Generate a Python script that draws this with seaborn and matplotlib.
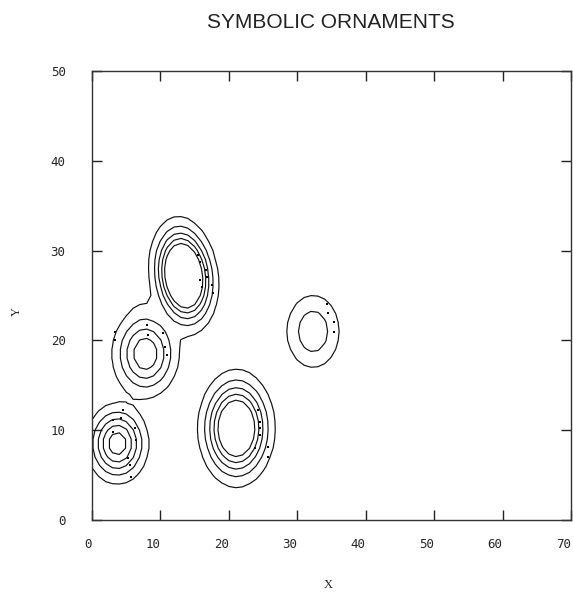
import numpy as np
import pandas as pd
import matplotlib
matplotlib.use("Agg")
import matplotlib.pyplot as plt
import seaborn as sns

# ---- data ----
peak_names = ["A", "B", "C", "D", "E", "A-B ridge"]
peak_x = [13.4, 7.8, 3.7, 21.1, 32.3, 7.2]
peak_y = [27.2, 18.5, 8.5, 10.2, 21.0, 23.4]
peak_height = [10.0, 4.9, 5.8, 8.1, 2.77, 0.7]
peak_sx = [2.3, 2.75, 2.45, 2.75, 2.66, 1.8]
peak_sy = [3.1, 2.75, 2.4, 3.2, 2.8, 1.5]
peak_tilt_deg = [15.0, 5.0, 0.0, 0.0, 0.0, 0.0]
contour_levels = [1, 2, 3, 4, 5]
blend_power = 1.6

orn_x = [15.5, 15.8, 16.7, 16.8, 15.8, 16.1, 17.5, 17.7,
         3.4, 3.4, 8.0, 8.2, 10.4, 10.7, 11.0,
         4.5, 3.1, 4.2, 6.3, 3.1, 6.4, 5.3, 5.6, 5.7,
         24.3, 24.6, 24.6, 24.6, 23.8, 25.7, 25.7,
         34.4, 34.5, 35.4, 35.4]
orn_y = [29.5, 28.7, 27.8, 27.1, 26.7, 25.9, 26.2, 25.3,
         20.9, 20.0, 21.7, 20.6, 20.8, 19.3, 18.4,
         12.2, 11.1, 11.4, 10.2, 9.8, 8.9, 6.9, 6.1, 4.8,
         12.2, 10.9, 10.2, 9.5, 8.0, 8.1, 7.0,
         24.1, 23.1, 22.0, 20.9]

x_ticks = [0, 10, 20, 30, 40, 50, 60, 70]
y_ticks = [0, 10, 20, 30, 40, 50]

# ---- surface on a grid ----
gx = np.arange(0, 70.01, 1.0)
gy = np.arange(0, 50.01, 1.0)
GX, GY = np.meshgrid(gx, gy)
Z = np.zeros_like(GX)
for cx, cy, h, sx, sy, t in zip(peak_x, peak_y, peak_height, peak_sx, peak_sy, peak_tilt_deg):
    th = np.deg2rad(t)
    dx = GX - cx
    dy = GY - cy
    u = np.cos(th) * dx + np.sin(th) * dy
    v = -np.sin(th) * dx + np.cos(th) * dy
    Z += (h * np.exp(-0.5 * ((u / sx) ** 2 + (v / sy) ** 2))) ** blend_power
Z = Z ** (1.0 / blend_power)

sns.set_style("white")
plt.rcParams["font.family"] = ["DejaVu Sans"]

fig = plt.figure(figsize=(5.73, 5.93), dpi=100)
ax = fig.add_axes([0.1606, 0.1231, 0.8359, 0.7572])

ax.contour(GX, GY, Z, levels=contour_levels, colors="#111111", linewidths=0.85)

orn = pd.DataFrame({"x": orn_x, "y": orn_y})
sns.scatterplot(data=orn, x="x", y="y", ax=ax, marker="s", s=4,
                color="black", edgecolor="black", linewidth=0, legend=False)

ax.set_xlim(0, 70)
ax.set_ylim(0, 50)
ax.set_xticks(x_ticks)
ax.set_yticks(y_ticks)
ax.set_xticklabels([str(t) for t in x_ticks], family="DejaVu Sans Mono", fontsize=9, ha="right")
ax.set_yticklabels([str(t) for t in y_ticks], family="DejaVu Sans Mono", fontsize=9)
ax.tick_params(direction="in", length=7, width=1, color="#222222",
               top=True, right=True, bottom=True, left=True)
ax.tick_params(axis="x", pad=13)
ax.tick_params(axis="y", pad=19)
for sp in ax.spines.values():
    sp.set_color("#333333")
    sp.set_linewidth(1.0)
    sp.set_visible(True)

ax.set_xlabel("X", family="Liberation Serif", fontsize=9)
ax.set_ylabel("Y", family="Liberation Serif", fontsize=9)
ax.xaxis.set_label_coords(0.494, -0.131)
ax.yaxis.set_label_coords(-0.145, 0.465)
fig.text(0.5768, 0.9523, "SYMBOLIC ORNAMENTS", family="Liberation Sans", fontsize=15,
         color="#222222", ha="center", va="baseline")

fig.savefig("out.png", dpi=100)
